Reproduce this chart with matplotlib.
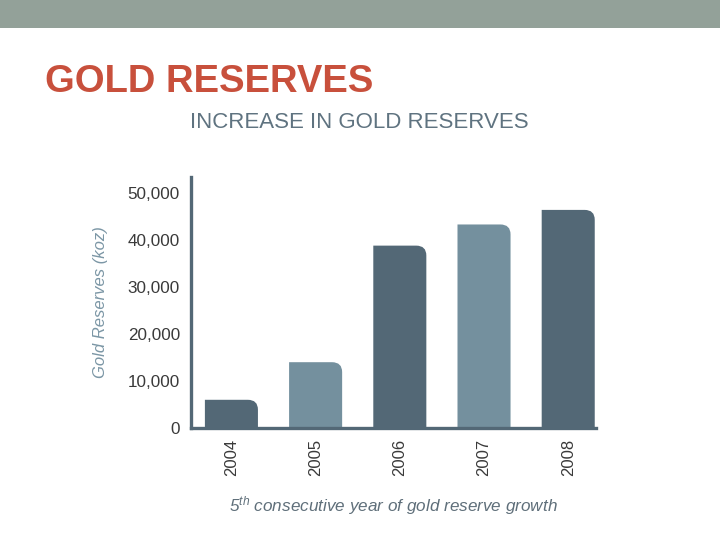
import matplotlib
matplotlib.use("Agg")
import matplotlib.pyplot as plt
from matplotlib.path import Path
from matplotlib.patches import PathPatch, Rectangle

plt.rcParams['font.family'] = ['Liberation Sans', 'DejaVu Sans']
plt.rcParams['mathtext.fontset'] = 'custom'
plt.rcParams['mathtext.rm'] = 'Liberation Sans:italic'
plt.rcParams['mathtext.it'] = 'Liberation Sans:italic'

years = ["2004", "2005", "2006", "2007", "2008"]
reserves = [6000, 14000, 38800, 43300, 46400]
bar_colors = ["#536876", "#74909e", "#536876", "#74909e", "#536876"]
yticks = [0, 10000, 20000, 30000, 40000, 50000]

DARK = "#536876"


def rounded_bar(ax, x, h, w, color, rx=0.12, ry=2100):
    # square top-left corner, rounded top-right corner
    left, right = x - w / 2, x + w / 2
    verts = [(left, 0), (left, h), (right - rx, h), (right, h), (right, h - ry),
             (right, 0), (left, 0)]
    codes = [Path.MOVETO, Path.LINETO, Path.LINETO, Path.CURVE3, Path.CURVE3,
             Path.LINETO, Path.CLOSEPOLY]
    ax.add_patch(PathPatch(Path(verts, codes), facecolor=color, edgecolor="none"))


fig = plt.figure(figsize=(7.2, 5.4), dpi=100)
fig.patches.append(Rectangle((0, 1 - 28 / 540), 1, 28 / 540, transform=fig.transFigure,
                             facecolor="#93a199", edgecolor="none"))
fig.text(45 / 720, 1 - 82 / 540, "GOLD RESERVES", color="#c8503c", fontsize=27.5,
         fontweight="bold", va="center", ha="left")
fig.text(359 / 720, 1 - 123 / 540, "INCREASE IN GOLD RESERVES", color="#5f7380",
         fontsize=16, va="center", ha="center")

ax = fig.add_axes([191 / 720, 112 / 540, 405 / 720, 251 / 540])
for i, (val, c) in enumerate(zip(reserves, bar_colors)):
    rounded_bar(ax, i, val, 0.63, c)

ax.set_xlim(-0.48, 4.33)
ax.set_ylim(0, 53400)
ax.set_xticks(range(len(years)))
ax.set_xticklabels(years, rotation=90, fontsize=12, color="#3a3a3a")
ax.set_yticks(yticks)
ax.set_yticklabels([f"{v:,}" for v in yticks], fontsize=12.3, color="#3a3a3a")
ax.tick_params(length=0, pad=8)

for side in ["top", "right"]:
    ax.spines[side].set_visible(False)
for side in ["left", "bottom"]:
    ax.spines[side].set_color(DARK)
    ax.spines[side].set_linewidth(2.4)

ax.set_ylabel("Gold Reserves (koz)", fontsize=12, color="#7b96a5", style="italic", labelpad=14)
ax.set_xlabel(r"$5^{th}$ consecutive year of gold reserve growth", fontsize=12.3,
              color="#5f6f7a", style="italic", labelpad=13)

fig.savefig("out.png", dpi=100)
